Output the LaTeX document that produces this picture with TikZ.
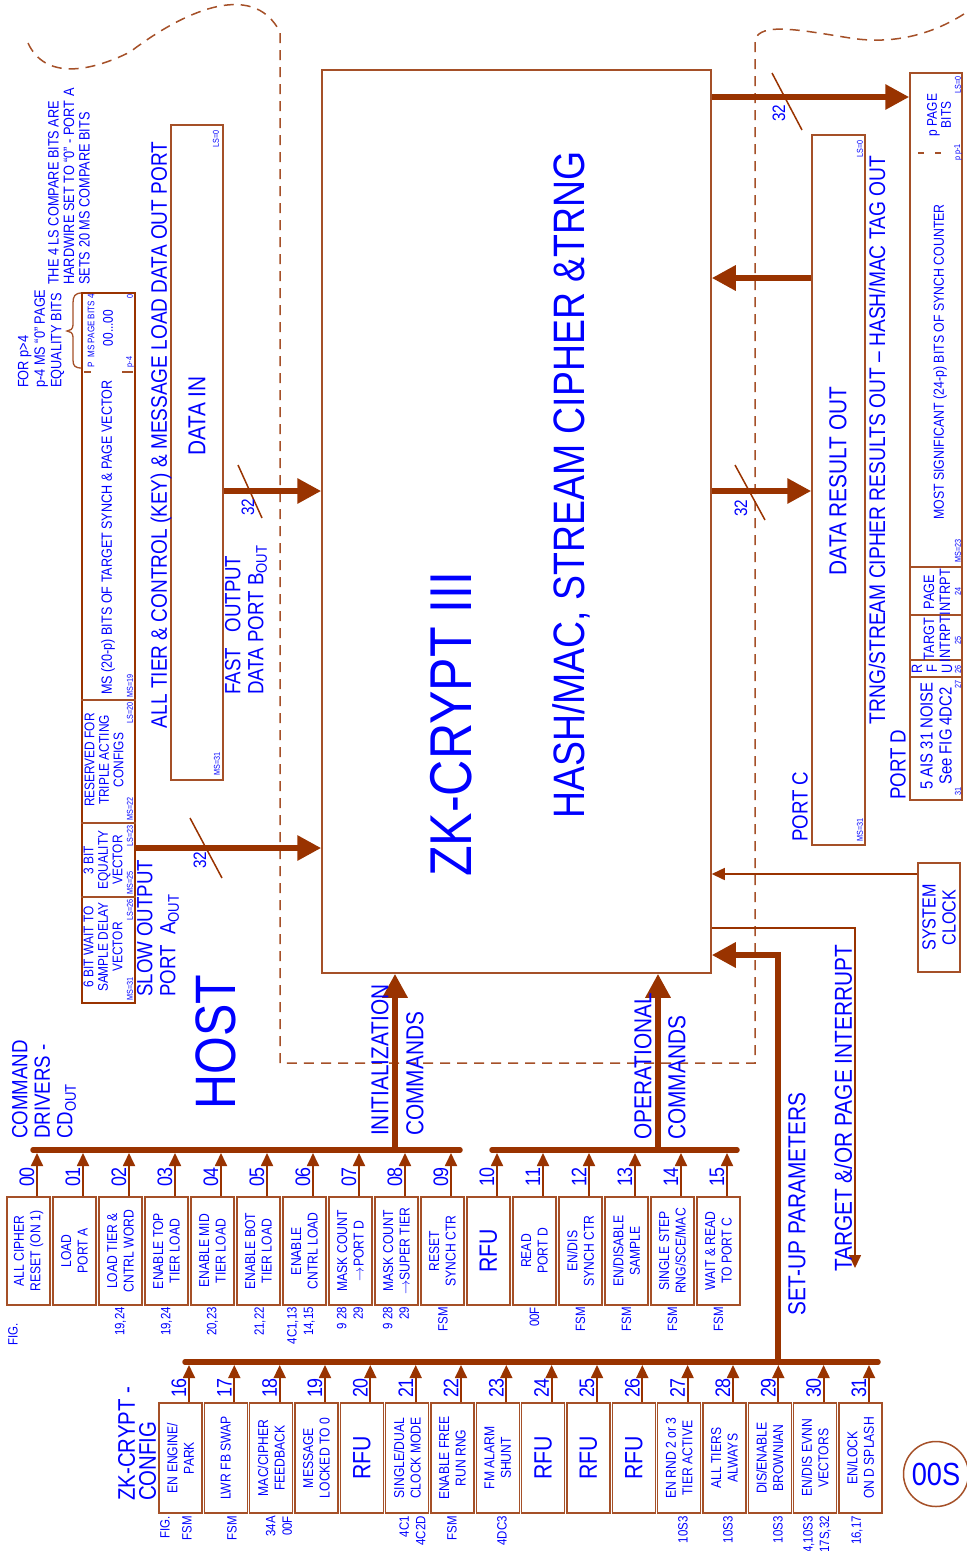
\documentclass[tikz,border=0pt]{standalone}
\usepackage{fontspec}
\setmainfont[FakeStretch=0.85]{Liberation Sans}
\usetikzlibrary{arrows.meta}
\definecolor{brn}{RGB}{153,51,0}
\definecolor{brl}{RGB}{165,80,40}
\definecolor{tb}{RGB}{0,0,255}
\newcommand\fz[2]{\fontsize{#1}{#2}\selectfont}
\begin{document}
\begin{tikzpicture}[x=1pt,y=-1pt,
  tx/.style={text=tb,inner sep=0pt,rotate=90,align=center},
  cbox/.style={draw=brl,line width=1.5pt,inner sep=0pt,minimum width=43pt,minimum height=108pt},
  kbox/.style={cbox,minimum height=110pt},
  carr/.style={draw=brn,line width=1.8pt,-{Triangle[length=13pt,width=12pt]}},
  bus/.style={draw=brn,line width=5.5pt,line cap=round},
  tarr/.style={draw=brn,line width=6.5pt,-{Triangle[length=24pt,width=24pt]}},
  thinarr/.style={draw=brn,line width=1.5pt,-{Triangle[length=13pt,width=12pt]}},
  slash/.style={draw=brn,line width=1.5pt},
  dsh/.style={draw=brl,line width=1.5pt,dash pattern=on 10pt off 7pt},
  sm/.style={tx,font=\fz{8.5}{9}},
  btxt/.style={tx,font=\fz{14.3}{16.5}},
  num/.style={tx,font=\fz{21}{21}},
  lbl/.style={tx,font=\fz{13.5}{16.5},anchor=east,align=right},
]
\useasboundingbox (0,0) rectangle (967,1551);

\newcommand\cbx[4]{%
  \node[cbox] (c#1) at (#2,1251) {};
  \node[btxt] (c#1t) at (c#1.center) {#4};
  \draw[carr] ([xshift=8.5pt]c#1.north) -- ([xshift=8.5pt]c#1.north |- b1y);
  \node[num] (c#1n) at ([xshift=-1.5pt]c#1.north |- 0,1177) {#3};
}
\newcommand\kbx[4]{%
  \node[kbox] (k#1) at (#2,1458) {};
  \node[btxt] (k#1t) at (k#1.center) {#4};
  \draw[carr] ([xshift=8.5pt]k#1.north) -- ([xshift=8.5pt]k#1.north |- b3y);
  \node[num] (k#1n) at ([xshift=-1.5pt]k#1.north |- 0,1388) {#3};
}

% ---------- dashed boundary
\draw[dsh] (28,43) .. controls (45,80) and (90,72) .. (130,52) .. controls (180,14) and (252,-22) .. (280,32) -- (280,1063) -- (755,1063) -- (755,40) .. controls (760,22) and (800,30) .. (850,38) .. controls (900,46) and (940,30) .. (967,12);

% ---------- notes
\node[tx,font=\fz{15}{16.5},align=left,anchor=west] (n1) at (41,388) {FOR p>4\\p-4 MS ``0'' PAGE\\EQUALITY BITS};
\node[tx,font=\fz{15}{15.5},align=left,anchor=west] (n2) at (69,285) {THE 4 LS COMPARE BITS ARE\\HARDWIRE SET TO ``0'' - PORT A\\SETS 20 MS COMPARE BITS};
\draw[brl,line width=1.3pt] (82,293) .. controls (75,293) and (73,296) .. (73,303) -- (73,325) .. controls (73,329) and (70,331) .. (67,331) .. controls (70,331) and (73,333) .. (73,337) -- (73,360) .. controls (73,366) and (75,368) .. (82,368);

% ---------- vector box (port A)
\node[draw=brn,line width=2.6pt,minimum width=53pt,minimum height=710pt,inner sep=0pt] (vb) at (108.5,648) {};
\draw[brl,line width=1.3pt] (84,372) -- (91,372) (122,372) -- (133,372);
\draw[brl,line width=1.3pt] (vb.west |- 0,700) -- (vb.east |- 0,700);
\draw[brl,line width=1.3pt] (vb.west |- 0,823) -- (vb.east |- 0,823);
\draw[brl,line width=1.3pt] (vb.west |- 0,897) -- (vb.east |- 0,897);
\node[tx,font=\fz{9.5}{10}] (vb1) at (91,331) {P\,\,\,MS PAGE BITS 4};
\node[tx,font=\fz{14}{14}] (vb2) at (108,328) {00...00};
\node[sm] (vb3) at (130,362) {p-4};
\node[sm] (vb4) at (130,296) {0};
\node[tx,font=\fz{14.8}{14.8},anchor=west] (vb5) at (108,695) {MS (20-p) BITS OF TARGET SYNCH \& PAGE VECTOR};
\node[sm,anchor=west] (l1) at (130,698) {MS=19};
\node[sm,anchor=east] (l2) at (130,702) {LS=20};
\node[sm,anchor=west] (l3) at (130,821) {MS=22};
\node[sm,anchor=east] (l4) at (130,825) {LS=23};
\node[sm,anchor=west] (l5) at (130,895) {MS=25};
\node[sm,anchor=east] (l6) at (130,899) {LS=26};
\node[sm,anchor=west] (l7) at (130,1001) {MS=31};
\node[tx,font=\fz{14}{14.5}] (vb6) at (104,760) {RESERVED FOR\\TRIPLE ACTING\\CONFIGS};
\node[tx,font=\fz{14}{14.5}] (vb7) at (103,860) {3 BIT\\EQUALITY\\VECTOR};
\node[tx,font=\fz{14}{14.5}] (vb8) at (103,947) {6 BIT WAIT TO\\SAMPLE DELAY\\VECTOR};
\node[tx,font=\fz{22}{23},align=left,anchor=west] (slow) at (158,997) {SLOW OUTPUT\\PORT\ \ A\textsubscript{OUT}};

% ---------- data in box
\node[draw=brl,line width=1.5pt,minimum width=52pt,minimum height=655pt,inner sep=0pt] (din) at (197,452.5) {};
\node[sm,anchor=east] (d1) at (216,130) {LS=0};
\node[sm,anchor=west] (d2) at (217,776) {MS=31};
\node[tx,font=\fz{24.5}{24.5}] (d3) at (197,416) {DATA IN};
\node[tx,font=\fz{22.4}{22.4}] (d4) at (161,435) {ALL TIER \& CONTROL (KEY) \& MESSAGE LOAD DATA OUT PORT};
\node[tx,font=\fz{22}{23},align=left,anchor=west] (d5) at (246,695) {FAST\ \ \ OUTPUT\\DATA PORT B\textsubscript{OUT}};

% ---------- main box
\node[draw=brl,line width=1.5pt,minimum width=389pt,minimum height=903pt,inner sep=0pt] (main) at (516.5,521.5) {};
\node[tx,font=\fz{59}{59}] (m1) at (451,724) {ZK-CRYPT III};
\node[tx,font=\fz{44}{44}] (m2) at (571,485) {HASH/MAC,\ STREAM CIPHER \&TRNG};

% ---------- data result out (port C)
\node[draw=brl,line width=1.5pt,minimum width=53pt,minimum height=710pt,inner sep=0pt] (dro) at (838.5,490) {};
\node[sm,anchor=east] (r1) at (860,140) {LS=0};
\node[sm,anchor=west] (r2) at (860,842) {MS=31};
\node[tx,font=\fz{24.5}{24.5}] (r3) at (838,481) {DATA RESULT OUT};
\node[tx,font=\fz{22.6}{22.6}] (r4) at (877,440) {TRNG/STREAM CIPHER RESULTS OUT -- HASH/MAC TAG OUT};
\node[tx,font=\fz{22}{22},anchor=west] (r5) at (800,842) {PORT C};

% ---------- port D
\node[draw=brl,line width=1.5pt,minimum width=52pt,minimum height=727pt,inner sep=0pt] (pd) at (936,436.5) {};
\draw[brl,line width=1.3pt] (918,153) -- (924,153) (935,153) -- (941,153);
\draw[brl,line width=1.3pt] (pd.west |- 0,567) -- (pd.east |- 0,567);
\draw[brl,line width=1.3pt] (pd.west |- 0,615) -- (pd.east |- 0,615);
\draw[brl,line width=1.3pt] (pd.west |- 0,660) -- (pd.east |- 0,660);
\draw[brl,line width=1.3pt] (pd.west |- 0,677) -- (pd.east |- 0,677);
\node[sm,anchor=east] (p1) at (958,76) {LS=0};
\node[sm,anchor=west] (p2) at (958,161) {p\ p-1};
\node[sm,anchor=west] (p3) at (958,563) {MS=23};
\node[sm] (p4) at (958,591) {24};
\node[sm] (p5) at (958,640) {25};
\node[sm] (p6) at (958,669) {26};
\node[sm] (p7) at (958,684) {27};
\node[sm] (p8) at (958,791) {31};
\node[tx,font=\fz{14}{14}] (p9) at (939,115) {p PAGE\\BITS};
\node[tx,font=\fz{14.5}{14.5}] (p10) at (940,362) {MOST SIGNIFICANT (24-p) BITS OF SYNCH COUNTER};
\node[tx,font=\fz{15}{16}] (p11) at (937,592) {PAGE\\INTRPT};
\node[tx,font=\fz{15}{16}] (p12) at (937,639) {TARGT\\INTRPT};
\node[tx,font=\fz{15}{15}] (p13) at (932,669) {R\\F\\U};
\node[tx,font=\fz{17.5}{19}] (p14) at (936,736) {5 AIS 31 NOISE\\See FIG 4DC2};
\node[tx,font=\fz{22}{22},anchor=west] (p15) at (898,800) {PORT D};

% ---------- system clock
\node[draw=brl,line width=1.5pt,minimum width=42pt,minimum height=109pt,inner sep=0pt] (clk) at (939,917.5) {};
\node[tx,font=\fz{19}{20}] (clkt) at (clk.center) {SYSTEM\\CLOCK};

% ---------- thick data arrows
\draw[tarr] (vb.east |- 0,848) -- (main.west |- 0,848);
\draw[tarr] (din.east |- 0,491) -- (main.west |- 0,491);
\draw[tarr] (main.east |- 0,97) -- (pd.west |- 0,97);
\draw[tarr] (dro.west |- 0,278) -- (main.east |- 0,278);
\draw[tarr] (main.east |- 0,491) -- (dro.west |- 0,491);
\draw[slash] (190,818) -- (222,878);
\draw[slash] (238,465) -- (262,518);
\draw[slash] (735,465) -- (765,520);
\draw[slash] (772,73) -- (802,130);
\node[tx,font=\fz{18}{18}] (s1) at (200,860) {32};
\node[tx,font=\fz{18}{18}] (s2) at (248,507) {32};
\node[tx,font=\fz{18}{18}] (s3) at (741,508) {32};
\node[tx,font=\fz{18}{18}] (s4) at (779,113) {32};

% clock + interrupt
\draw[thinarr] (clk.west |- 0,874) -- (main.east |- 0,874);
\coordinate (ti) at (855,1268);
\draw[thinarr] (main.east |- 0,928) -- (ti |- 0,928) -- (ti);

% ---------- buses
\coordinate (b1y) at (0,1153);
\coordinate (b3y) at (0,1365);
\coordinate (j1) at (395,1150);
\coordinate (j2) at (658,1150);
\coordinate (j3) at (778,1362);
\draw[bus] (33,1150) -- (460,1150);
\draw[bus] (492,1150) -- (737,1150);
\draw[bus] (185,1362) -- (878,1362);
\draw[tarr,line width=6pt] (j1) -- (j1 |- main.south);
\draw[tarr,line width=6pt] (j2) -- (j2 |- main.south);
\draw[tarr,line width=6pt] (j3) -- (778,955) -- (main.east |- 0,955);

\node[tx,font=\fz{24.5}{24.5},anchor=west] (i1) at (380,1136) {INITIALIZATION};
\node[tx,font=\fz{24.5}{24.5},anchor=west] (i2) at (415,1136) {COMMANDS};
\node[tx,font=\fz{24.5}{24.5},anchor=west] (o1) at (643,1140) {OPERATIONAL};
\node[tx,font=\fz{24.5}{24.5},anchor=west] (o2) at (677,1140) {COMMANDS};
\node[tx,font=\fz{24.5}{24.5},anchor=west] (su) at (797,1316) {SET-UP PARAMETERS};
\node[tx,font=\fz{24.5}{24.5},anchor=west] (tp) at (843,1272) {TARGET \&/OR PAGE INTERRUPT};
\node[tx,font=\fz{22}{22.5},align=left,anchor=west] (cd) at (44,1139) {COMMAND\\DRIVERS -\\CD\textsubscript{OUT}};
\node[tx,font=\fz{57}{57}] (host) at (216,1042) {HOST};
\node[tx,font=\fz{24}{21},align=left,anchor=west] (zkc) at (137,1501) {ZK-CRYPT -\\CONFIG};

% ---------- command boxes
\cbx{0}{28.5}{00}{ALL CIPHER\\RESET (ON 1)}
\cbx{1}{74.5}{01}{LOAD\\PORT A}
\cbx{2}{120.5}{02}{LOAD TIER \&\\CNTRL WORD}
\cbx{3}{166.5}{03}{ENABLE TOP\\TIER LOAD}
\cbx{4}{212.5}{04}{ENABLE MID\\TIER LOAD}
\cbx{5}{258.5}{05}{ENABLE BOT\\TIER LOAD}
\cbx{6}{304.5}{06}{ENABLE\\CNTRL LOAD}
\cbx{7}{350.5}{07}{MASK COUNT\\$\rightarrow$PORT D}
\cbx{8}{396.5}{08}{MASK COUNT\\$\rightarrow$SUPER TIER}
\cbx{9}{442.5}{09}{RESET\\SYNCH CTR}
\cbx{10}{488.5}{10}{\fz{25}{25}RFU}
\cbx{11}{534.5}{11}{READ\\PORT D}
\cbx{12}{580.5}{12}{EN/DIS\\SYNCH CTR}
\cbx{13}{626.5}{13}{EN/DISABLE\\SAMPLE}
\cbx{14}{672.5}{14}{SINGLE STEP\\RNG/SCE/MAC}
\cbx{15}{718.5}{15}{WAIT \& READ\\TO PORT C}

\node[lbl] (f0) at (13,1323) {FIG.};
\node[lbl] (f2) at (120.5,1307) {19,24};
\node[lbl] (f3) at (166.5,1307) {19,24};
\node[lbl] (f4) at (212.5,1307) {20,23};
\node[lbl] (f5) at (260,1307) {21,22};
\node[lbl] (f6) at (301,1307) {4C1,13\\14,15};
\node[lbl] (f7) at (350,1307) {9 28\\29};
\node[lbl] (f8) at (396,1307) {9 28\\29};
\node[lbl] (f9) at (443,1307) {FSM};
\node[lbl] (f11) at (534.5,1307) {00F};
\node[lbl] (f12) at (580.5,1307) {FSM};
\node[lbl] (f13) at (626.5,1307) {FSM};
\node[lbl] (f14) at (672.5,1307) {FSM};
\node[lbl] (f15) at (718.5,1307) {FSM};

% ---------- config boxes
\kbx{16}{180.5}{16}{EN ENGINE/\\PARK}
\kbx{17}{225.8}{17}{LWR FB SWAP}
\kbx{18}{271.2}{18}{MAC/CIPHER\\FEEDBACK}
\kbx{19}{316.5}{19}{MESSAGE\\LOCKED TO 0}
\kbx{20}{361.8}{20}{\fz{25}{25}RFU}
\kbx{21}{407.2}{21}{SINGLE/DUAL\\CLOCK MODE}
\kbx{22}{452.5}{22}{ENABLE FREE\\RUN RNG}
\kbx{23}{497.8}{23}{FM ALARM\\SHUNT}
\kbx{24}{543.1}{24}{\fz{25}{25}RFU}
\kbx{25}{588.5}{25}{\fz{25}{25}RFU}
\kbx{26}{633.8}{26}{\fz{25}{25}RFU}
\kbx{27}{679.1}{27}{EN RND 2 or 3\\TIER ACTIVE}
\kbx{28}{724.5}{28}{ALL TIERS\\ALWAYS}
\kbx{29}{769.8}{29}{DIS/ENABLE\\BROWNIAN}
\kbx{30}{815.1}{30}{EN/DIS EVNN\\VECTORS}
\kbx{31}{860.5}{31}{EN/LOCK\\ON D SPLASH}

\node[lbl] (g0) at (165,1516) {FIG.};
\node[lbl] (g16) at (187,1516) {FSM};
\node[lbl] (g17) at (232,1516) {FSM};
\node[lbl] (g18) at (279,1516) {34A\\00F};
\node[lbl] (g21) at (412.5,1516) {4C1\\4C2D};
\node[lbl] (g22) at (452,1516) {FSM};
\node[lbl] (g23) at (502,1516) {4DC3};
\node[lbl] (g27) at (683,1516) {10S3};
\node[lbl] (g28) at (728,1516) {10S3};
\node[lbl] (g29) at (778,1516) {10S3};
\node[lbl] (g30) at (817,1516) {4,10S3\\17S,32};
\node[lbl] (g31) at (857,1516) {16,17};

% ---------- 00S
\node[draw=brl,line width=1.5pt,circle,minimum size=65pt,inner sep=0pt,text=tb,font=\fz{32}{32}] (oos) at (936,1474) {00S};
\end{tikzpicture}
\end{document}
